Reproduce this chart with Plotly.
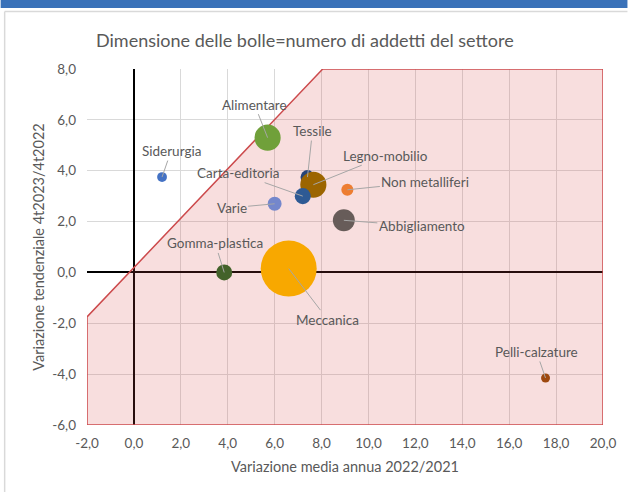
import plotly.graph_objects as go

# Sectors: average annual change 2022/2021 (x), trend change 4t2023/4t2022 (y), employees (bubble area)
settori = ["Siderurgia", "Alimentare", "Tessile", "Legno-mobilio", "Carta-editoria",
           "Varie", "Non metalliferi", "Abbigliamento", "Gomma-plastica", "Meccanica",
           "Pelli-calzature"]
var_media = [1.2, 5.7, 7.4, 7.65, 7.2, 6.0, 9.1, 8.95, 3.85, 6.6, 17.55]
var_tend = [3.75, 5.3, 3.75, 3.45, 3.0, 2.7, 3.25, 2.05, 0.0, 0.15, -4.15]
addetti = [1200, 8500, 2400, 8500, 3200, 2400, 1800, 6000, 3200, 39000, 1000]
colori = ["#4472C4", "#70A03A", "#264478", "#9C6500", "#2E5A94",
          "#7487CC", "#ED7D31", "#675C59", "#43622A", "#F8A800", "#9E480E"]

# label offsets (pixels) relative to each bubble
lab_dx = [9, -13, 5, 72, -65, -43, 78, 78, -9, 39, -9]
lab_dy = [-26, -33, -46, -29, -23, 4, -8, 6, -29, 51, -26]

# shaded region boundary
zona_x = [-2.0, 8.05, 20.0, 20.0, -2.0, -2.0]
zona_y = [-1.75, 8.0, 8.0, -6.0, -6.0, -1.75]

# axis ticks and their labels (Italian decimal comma, plain hyphen for negatives)
x_ticks = [-2, 0, 2, 4, 6, 8, 10, 12, 14, 16, 18, 20]
x_tick_labels = ["-2,0", "0,0", "2,0", "4,0", "6,0", "8,0", "10,0",
                 "12,0", "14,0", "16,0", "18,0", "20,0"]
y_ticks = [-6, -4, -2, 0, 2, 4, 6, 8]
y_tick_labels = ["-6,0", "-4,0", "-2,0", "0,0", "2,0", "4,0", "6,0", "8,0"]

x_range = [-2, 20]
y_range = [-6, 8]

FONT = "Lato, 'Open Sans', sans-serif"
GREY_TXT = "#595959"

fig = go.Figure()

fig.add_trace(go.Scatter(
    x=zona_x, y=zona_y, mode="lines", fill="toself",
    fillcolor="rgba(215,70,70,0.18)",
    line=dict(color="#CC4A4C", width=1.5),
    hoverinfo="skip", showlegend=False,
))

max_d = 56
sizeref = 2.0 * max(addetti) / (max_d ** 2)
fig.add_trace(go.Scatter(
    x=var_media, y=var_tend, mode="markers", text=settori,
    marker=dict(size=addetti, sizemode="area", sizeref=sizeref, sizemin=2,
                color=colori, opacity=1, line=dict(width=0)),
    showlegend=False,
))

for name, xv, yv, dx, dy in zip(settori, var_media, var_tend, lab_dx, lab_dy):
    fig.add_annotation(
        x=xv, y=yv, text=name, ax=dx, ay=dy, axref="pixel", ayref="pixel",
        showarrow=True, arrowhead=0, arrowwidth=1, arrowcolor="#A6A6A6",
        standoff=0, startstandoff=0,
        font=dict(family=FONT, size=13.5, color=GREY_TXT),
    )

# chart title
fig.add_annotation(
    text="Dimensione delle bolle=numero di addetti del settore",
    xref="paper", yref="paper", x=(304.5 - 86.5) / 517, y=(425 - 40) / 356,
    xanchor="center", yanchor="middle", showarrow=False,
    font=dict(family=FONT, size=18, color=GREY_TXT),
)

# top header band and frame lines
fig.add_shape(type="rect", xref="paper", yref="paper",
              x0=-86.5 / 517, x1=(628 - 86.5) / 517,
              y0=(425 - 8) / 356, y1=425 / 356 + 0.01,
              fillcolor="#3A72B9", line=dict(width=0), layer="above")
fig.add_shape(type="line", xref="paper", yref="paper",
              x0=(4 - 86.5) / 517, x1=(628 - 86.5) / 517,
              y0=(425 - 11.5) / 356, y1=(425 - 11.5) / 356,
              line=dict(color="#D9D9D9", width=1.5), layer="above")
fig.add_shape(type="line", xref="paper", yref="paper",
              x0=(4 - 86.5) / 517, x1=(4 - 86.5) / 517,
              y0=(425 - 11.5) / 356, y1=(425 - 492) / 356,
              line=dict(color="#D9D9D9", width=1.5), layer="above")

axis_common = dict(
    showgrid=True, gridcolor="#D9D9D9", gridwidth=1,
    zeroline=True, zerolinecolor="#000000", zerolinewidth=2.2,
    showline=False, ticks="",
    tickfont=dict(family=FONT, size=13.5, color=GREY_TXT),
)

fig.update_xaxes(range=x_range, tickmode="array", tickvals=x_ticks,
                 ticktext=x_tick_labels, ticklabelstandoff=8,
                 title=dict(text="Variazione media annua 2022/2021", standoff=12,
                            font=dict(family=FONT, size=14.5, color=GREY_TXT)),
                 **axis_common)
fig.update_yaxes(range=y_range, tickmode="array", tickvals=y_ticks,
                 ticktext=y_tick_labels, ticklabelstandoff=10,
                 title=dict(text="Variazione tendenziale 4t2023/4t2022", standoff=4,
                            font=dict(family=FONT, size=14.5, color=GREY_TXT)),
                 **axis_common)

fig.update_layout(
    width=628, height=492,
    margin=dict(l=86.5, r=24.5, t=69, b=67),
    paper_bgcolor="white", plot_bgcolor="white",
    font=dict(family=FONT, color=GREY_TXT),
)

fig.write_html("out.html")
